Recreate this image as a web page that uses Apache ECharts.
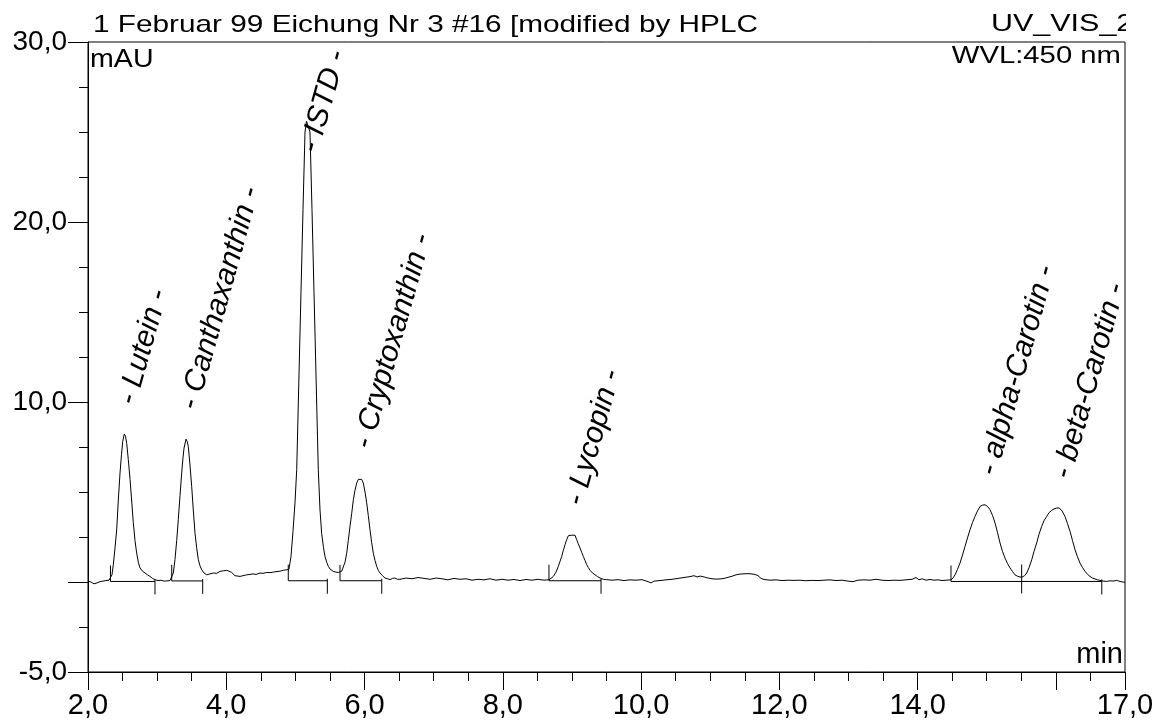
<!DOCTYPE html>
<html>
<head>
<meta charset="utf-8">
<script src="https://cdn.jsdelivr.net/npm/echarts@6/dist/echarts.min.js"></script>
<style>
  html, body { margin: 0; padding: 0; background: #fff; }
  #chart { width: 1160px; height: 724px; }
</style>
</head>
<body>
<div id="chart"></div>
<script>
// ---- Data ----
const retentionTime = [
  2.000,2.043,2.087,2.130,2.174,2.217,2.260,2.304,2.325,
  2.347,2.366,2.391,2.415,2.438,2.463,2.485,2.502,2.525,2.542,2.560,2.583,2.608,2.632,2.655,2.680,2.704,2.728,2.752,2.788,2.825,2.861,2.897,2.933,2.969,3.013,3.056,3.099,3.143,3.186,3.211,
  3.234,3.258,3.283,3.306,3.331,3.355,3.374,3.389,3.418,3.435,3.451,3.475,3.500,3.523,3.548,3.572,3.596,3.620,3.645,3.678,3.717,3.765,3.812,3.862,3.909,3.957,4.006,4.040,4.079,4.126,4.199,4.242,4.296,4.343,4.387,4.430,4.488,4.531,4.585,4.633,4.680,4.734,4.777,4.825,4.874,4.907,
  4.936,4.965,4.994,5.019,5.052,5.081,5.110,5.139,5.161,5.182,5.211,5.240,5.269,5.298,5.331,5.356,5.380,5.407,5.428,5.453,5.476,5.501,5.548,5.587,5.621,5.645,
  5.670,5.693,5.718,5.742,5.765,5.790,5.814,5.838,5.862,5.887,5.910,5.934,5.959,5.982,6.007,6.031,6.054,6.079,6.103,6.127,6.151,6.176,6.199,6.224,6.260,6.296,6.332,6.368,6.405,6.441,6.477,6.513,
  6.600,6.687,6.773,6.860,6.947,7.034,7.121,7.207,7.294,7.381,7.468,7.555,7.641,7.728,7.815,7.902,7.989,8.075,8.162,8.249,8.336,8.423,8.509,8.596,8.668,
  8.697,8.731,8.770,8.803,8.828,8.852,8.875,8.900,8.924,8.948,8.972,8.997,9.016,9.044,9.069,9.092,9.117,9.141,9.165,9.189,9.214,9.237,9.262,9.298,9.334,9.370,9.406,9.454,9.503,
  9.580,9.667,9.754,9.840,9.927,10.014,10.101,10.144,10.188,10.274,10.361,10.448,10.535,10.621,10.708,10.766,10.810,10.853,10.911,10.969,11.026,11.084,11.142,11.200,11.258,11.316,11.374,11.432,11.504,11.576,11.649,11.692,11.735,11.779,11.865,11.952,12.039,12.126,12.213,12.299,12.386,12.473,12.560,12.646,12.733,12.820,12.907,12.993,13.066,13.138,13.225,13.312,13.398,13.485,13.572,13.659,13.746,13.832,13.919,13.977,14.020,14.064,14.122,14.180,14.237,14.295,14.353,14.411,14.483,
  14.512,14.541,14.577,14.613,14.650,14.686,14.722,14.758,14.794,14.830,14.867,14.903,14.939,14.975,15.011,15.047,15.084,15.120,15.156,15.192,15.228,15.264,15.301,15.337,15.373,15.409,15.445,15.481,15.510,
  15.547,15.578,15.612,15.651,15.684,15.723,15.756,15.795,15.828,15.867,15.901,15.940,15.973,16.012,16.050,16.089,16.132,16.168,16.205,16.241,16.277,16.313,16.349,16.386,16.422,16.458,16.494,16.530,16.566,16.603,16.639,16.682,16.736,16.783,16.827,16.880,16.928,17.000
];
const absorbance = [
  0.05,0.00,-0.10,-0.05,0.02,0.05,0.08,0.10,0.12,
  0.40,0.96,1.90,2.90,4.50,6.05,7.10,7.80,8.22,8.10,7.70,6.80,5.70,4.50,3.30,2.30,1.60,1.10,0.78,0.60,0.50,0.40,0.31,0.20,0.13,0.08,0.10,0.05,0.06,0.08,0.10,
  0.50,1.24,2.30,3.46,4.80,6.05,6.90,7.44,7.94,7.80,7.53,6.50,5.30,4.00,2.70,1.90,1.24,0.90,0.68,0.50,0.40,0.45,0.50,0.48,0.59,0.62,0.65,0.60,0.53,0.35,0.31,0.35,0.40,0.42,0.45,0.42,0.50,0.48,0.53,0.52,0.55,0.58,0.60,0.65,0.68,0.72,
  1.40,2.80,4.40,6.24,11.50,16.10,20.70,25.00,25.60,25.50,25.00,20.70,16.10,11.50,6.24,4.00,2.70,1.90,1.42,1.10,0.87,0.72,0.59,0.55,0.53,0.55,
  0.60,0.68,1.10,1.60,2.30,3.10,3.80,4.57,5.10,5.50,5.70,5.78,5.70,5.50,5.00,4.40,3.70,2.90,2.20,1.60,1.20,0.87,0.65,0.50,0.35,0.22,0.18,0.13,0.20,0.22,0.15,0.15,
  0.22,0.18,0.25,0.20,0.15,0.22,0.18,0.12,0.20,0.15,0.18,0.10,0.15,0.12,0.18,0.10,0.15,0.10,0.14,0.08,0.14,0.10,0.15,0.10,0.13,
  0.20,0.31,0.55,0.87,1.15,1.42,1.75,2.07,2.35,2.57,2.63,2.60,2.63,2.60,2.35,2.12,1.89,1.65,1.42,1.20,0.96,0.80,0.65,0.50,0.40,0.30,0.22,0.15,0.13,
  0.10,0.13,0.08,0.12,0.10,0.13,0.02,-0.05,0.05,0.08,0.12,0.15,0.20,0.25,0.30,0.35,0.28,0.33,0.28,0.22,0.18,0.16,0.17,0.20,0.26,0.32,0.40,0.44,0.46,0.46,0.42,0.35,0.20,0.14,0.10,0.12,0.08,0.10,0.09,0.10,0.07,0.09,0.08,0.10,0.12,0.08,0.10,0.05,0.02,0.10,0.12,0.10,0.15,0.10,0.08,0.10,0.09,0.12,0.15,0.25,0.12,0.18,0.10,0.14,0.10,0.12,0.08,0.10,0.12,
  0.22,0.40,0.70,1.05,1.50,1.98,2.45,2.90,3.30,3.64,3.95,4.20,4.27,4.29,4.20,4.02,3.70,3.28,2.75,2.17,1.70,1.33,1.02,0.78,0.58,0.40,0.32,0.28,0.27,
  0.35,0.50,0.80,1.24,1.70,2.17,2.65,3.09,3.40,3.64,3.85,3.98,4.06,4.11,4.11,3.95,3.64,3.25,2.81,2.30,1.79,1.40,1.05,0.80,0.59,0.43,0.31,0.22,0.17,0.12,0.09,0.05,0.03,0.07,0.05,0.09,0.03,-0.02
];

// Peaks (apex) and their names
const peakNames = ['Lutein', 'Canthaxanthin', 'ISTD', 'Cryptoxanthin', 'Lycopin', 'alpha-Carotin', 'beta-Carotin'];
const peakApexTime = [2.525, 3.418, 5.161, 5.934, 8.997, 14.975, 16.050];
const peakApexValue = [8.22, 7.94, 25.6, 5.78, 2.63, 4.29, 4.11];

// Integration windows (baseline segments)
const windowStart = [2.325, 3.211, 4.897, 5.645, 8.668, 14.483];
const windowEnd   = [2.969, 3.659, 5.462, 6.249, 9.421, 16.664];
const windowLevel = [0.03, 0.06, 0.07, 0.07, 0.07, 0.03];
// Drop line splitting alpha/beta
const dropTime  = [15.505];
const dropLevel = [0.03];

// Axes ranges, ticks and labels
const X_MIN = 2, X_MAX = 17, Y_MIN = -5, Y_MAX = 30;
const xMajorTicks = [2, 4, 6, 8, 10, 12, 14, 16, 17];
const xTickLabels = [2, 4, 6, 8, 10, 12, 14, 17];
const xMinorTicks = [2.5, 3, 3.5, 4.5, 5, 5.5, 6.5, 7, 7.5, 8.5, 9, 9.5, 10.5, 11, 11.5, 12.5, 13, 13.5, 14.5, 15, 15.5, 16.5];
const yMajorTicks = [-5, 0, 10, 20, 30];
const yTickLabels = [-5, 10, 20, 30];
const yMinorTicks = [-2.5, 2.5, 5, 7.5, 12.5, 15, 17.5, 22.5, 25, 27.5];

const titleText = '1 Februar 99 Eichung Nr 3 #16 [modified by HPLC';
const channelText = 'UV_VIS_2';
const yUnitText = 'mAU';
const wavelengthText = 'WVL:450 nm';
const xUnitText = 'min';

// ---- Build chart ----
const FONT = '"Liberation Sans", Arial, Helvetica, sans-serif';
const fmt = v => v.toFixed(1).replace('.', ',');
const traceData = retentionTime.map((t, i) => [t, absorbance[i]]);
const peakData = peakApexTime.map((t, i) => [t, peakApexValue[i], i]);
const windowData = windowStart.map((s, i) => [s, windowEnd[i], windowLevel[i]]);
const dropData = dropTime.map((t, i) => [t, dropLevel[i]]);

const LABEL_ROT = 74.3 * Math.PI / 180;
const LABEL_FONT = 'italic 30px ' + FONT;
const measureCtx = document.createElement('canvas').getContext('2d');
const BLACK = { stroke: '#000', lineWidth: 1 };

const chart = echarts.init(document.getElementById('chart'), null, { renderer: 'canvas' });

chart.setOption({
  animation: false,
  backgroundColor: '#fff',
  grid: { left: 88, right: 35, top: 42, bottom: 52, show: true, borderColor: '#000', borderWidth: 1, containLabel: false },
  xAxis: [
    {
      type: 'value', min: X_MIN, max: X_MAX, position: 'bottom',
      splitLine: { show: false },
      axisLine: { show: true, onZero: false, lineStyle: { color: '#000', width: 1 } },
      axisTick: { show: true, inside: false, length: 18, customValues: xMajorTicks, lineStyle: { color: '#000', width: 1 } },
      axisLabel: { show: true, customValues: xTickLabels, formatter: fmt, color: '#000', fontSize: 29, fontFamily: FONT, margin: 19, showMinLabel: true, showMaxLabel: true }
    },
    {
      // minor time ticks (every 0.5 min): sits on the zero of the helper y axis, i.e. the bottom edge
      type: 'value', min: X_MIN, max: X_MAX, position: 'bottom',
      splitLine: { show: false },
      axisLine: { show: false, onZero: true, onZeroAxisIndex: 2 },
      axisTick: { show: true, inside: false, length: 9, customValues: xMinorTicks, lineStyle: { color: '#000', width: 1 } },
      axisLabel: { show: false }
    }
  ],
  yAxis: [
    {
      type: 'value', min: Y_MIN, max: Y_MAX, position: 'left', offset: 0,
      splitLine: { show: false },
      axisLine: { show: true, onZero: false, lineStyle: { color: '#000', width: 1 } },
      axisTick: { show: true, inside: false, length: 20, customValues: yMajorTicks, lineStyle: { color: '#000', width: 1 } },
      axisLabel: { show: true, customValues: yTickLabels, formatter: fmt, color: '#000', fontSize: 28, fontFamily: FONT, margin: 21, showMinLabel: true, showMaxLabel: true }
    },
    {
      type: 'value', min: Y_MIN, max: Y_MAX, position: 'left', offset: 0,
      splitLine: { show: false },
      axisLine: { show: false, onZero: false },
      axisTick: { show: true, inside: false, length: 9, customValues: yMinorTicks, lineStyle: { color: '#000', width: 1 } },
      axisLabel: { show: false }
    },
    {
      // helper axis, invisible: its zero lies on the bottom edge of the plot
      type: 'value', min: 0, max: Y_MAX - Y_MIN, position: 'left', offset: 0,
      splitLine: { show: false },
      axisLine: { show: false, onZero: false },
      axisTick: { show: false },
      axisLabel: { show: false }
    }
  ],
  graphic: [
    { type: 'text', x: 93, y: 25, scaleX: 1.24, style: { text: titleText, font: '24px ' + FONT, fill: '#000', align: 'left', verticalAlign: 'middle' } },
    { type: 'text', x: 991, y: 24, scaleX: 1.27, style: { text: channelText, font: '24px ' + FONT, fill: '#000', align: 'left', verticalAlign: 'middle' } },
    { type: 'rect', z: 100, shape: { x: 1126, y: 0, width: 34, height: 40 }, style: { fill: '#fff' } },
    { type: 'text', x: 90, y: 60, scaleX: 1.1, style: { text: yUnitText, font: '26px ' + FONT, fill: '#000', align: 'left', verticalAlign: 'middle' } },
    { type: 'text', x: 1121, y: 56, scaleX: 1.22, style: { text: wavelengthText, font: '24px ' + FONT, fill: '#000', align: 'right', verticalAlign: 'middle' } },
    { type: 'text', x: 1123, y: 655, style: { text: xUnitText, font: '29px ' + FONT, fill: '#000', align: 'right', verticalAlign: 'middle' } }
  ],
  series: [
    {
      type: 'line', xAxisIndex: 0, yAxisIndex: 0,
      data: traceData, showSymbol: false, symbol: 'none',
      lineStyle: { color: '#000', width: 1 }, silent: true, z: 5
    },
    {
      type: 'custom', xAxisIndex: 0, yAxisIndex: 0, silent: true, z: 4,
      data: windowData, encode: { x: [0, 1], y: 2 },
      renderItem: function (params, api) {
        const s = api.coord([api.value(0), api.value(2)]);
        const e = api.coord([api.value(1), api.value(2)]);
        return { type: 'group', children: [
          { type: 'line', shape: { x1: s[0], y1: s[1], x2: e[0], y2: e[1] }, style: BLACK },
          { type: 'line', shape: { x1: s[0], y1: s[1] - 16, x2: s[0], y2: s[1] }, style: BLACK },
          { type: 'line', shape: { x1: e[0], y1: e[1] - 2, x2: e[0], y2: e[1] + 13 }, style: BLACK }
        ] };
      }
    },
    {
      type: 'custom', xAxisIndex: 0, yAxisIndex: 0, silent: true, z: 4,
      data: dropData, encode: { x: 0, y: 1 },
      renderItem: function (params, api) {
        const p = api.coord([api.value(0), api.value(1)]);
        return { type: 'line', shape: { x1: p[0], y1: p[1] - 17, x2: p[0], y2: p[1] + 12 }, style: BLACK };
      }
    },
    {
      type: 'custom', xAxisIndex: 0, yAxisIndex: 0, silent: true, z: 6, clip: false,
      data: peakData, encode: { x: 0, y: 1 },
      renderItem: function (params, api) {
        const p = api.coord([api.value(0), api.value(1)]);
        const text = '- ' + peakNames[api.value(2)] + ' -';
        measureCtx.font = LABEL_FONT;
        const w = measureCtx.measureText(text).width;
        const minY = params.coordSys.y + w * Math.sin(LABEL_ROT) + 9;
        const y = Math.max(p[1] - 30, minY);
        return { type: 'text', x: p[0] + 3, y: y, rotation: LABEL_ROT,
          style: { text: text, font: LABEL_FONT, fill: '#000', align: 'left', verticalAlign: 'middle' } };
      }
    }
  ]
});
</script>
</body>
</html>
